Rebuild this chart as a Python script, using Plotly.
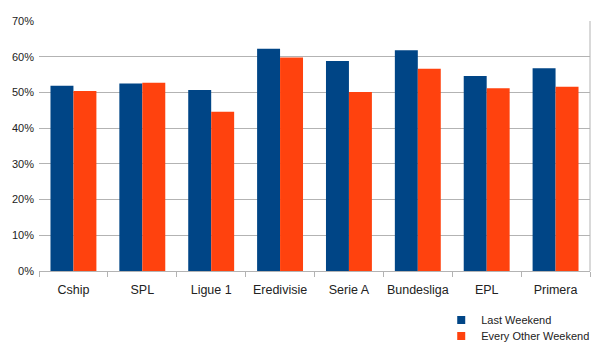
import plotly.graph_objects as go

categories = ["Cship", "SPL", "Ligue 1", "Eredivisie", "Serie A", "Bundesliga", "EPL", "Primera"]
last_weekend = [51.9, 52.5, 50.7, 62.2, 58.8, 61.8, 54.6, 56.8]
every_other = [50.4, 52.7, 44.6, 59.8, 50.1, 56.6, 51.2, 51.6]
y_ticks = [0, 10, 20, 30, 40, 50, 60, 70]
y_labels = [f"{v}%" for v in y_ticks]

series = [("Last Weekend", last_weekend, "#004586", "legend"),
          ("Every Other Weekend", every_other, "#ff420e", "legend2")]

fig = go.Figure()
for name, vals, col, lg in series:
    fig.add_bar(x=categories, y=vals, name=name, marker_color=col, marker_line_width=0,
                showlegend=False, legendgroup=name)
for name, vals, col, lg in series:
    fig.add_scatter(x=[None], y=[None], mode="markers", name=name, legendgroup=name, legend=lg,
                    marker=dict(symbol="square", size=8, color=col), showlegend=True)

leg_common = dict(xanchor="left", yanchor="middle", font=dict(size=11), itemwidth=30,
                  bgcolor="rgba(0,0,0,0)")
fig.update_layout(
    width=613, height=353,
    margin=dict(l=39, r=23, t=21, b=82, autoexpand=False),
    paper_bgcolor="white", plot_bgcolor="white",
    barmode="group", bargap=1/3, bargroupgap=0,
    font=dict(family="Liberation Sans, Arial, sans-serif", size=11, color="#222"),
    legend=dict(x=0.73, y=-0.196, **leg_common),
    legend2=dict(x=0.73, y=-0.26, **leg_common),
    showlegend=True,
)
fig.update_xaxes(
    showline=True, linecolor="#b3b3b3", linewidth=1,
    ticks="outside", tickson="boundaries", ticklen=5, tickcolor="#b3b3b3",
    tickfont=dict(size=12.5), tickangle=0, automargin=False, showgrid=False,
    ticklabelstandoff=7,
)
fig.update_yaxes(
    range=[0, 70], tickvals=y_ticks, ticktext=y_labels,
    showgrid=True, gridcolor="#b3b3b3", gridwidth=1,
    zeroline=False, showline=False, ticks="", ticklabelstandoff=4,
    tickfont=dict(size=11), automargin=False,
)
fig.add_shape(type="line", xref="paper", yref="paper", x0=1, x1=1, y0=0, y1=1,
              line=dict(color="#b3b3b3", width=1))

fig.write_html("out.html")
